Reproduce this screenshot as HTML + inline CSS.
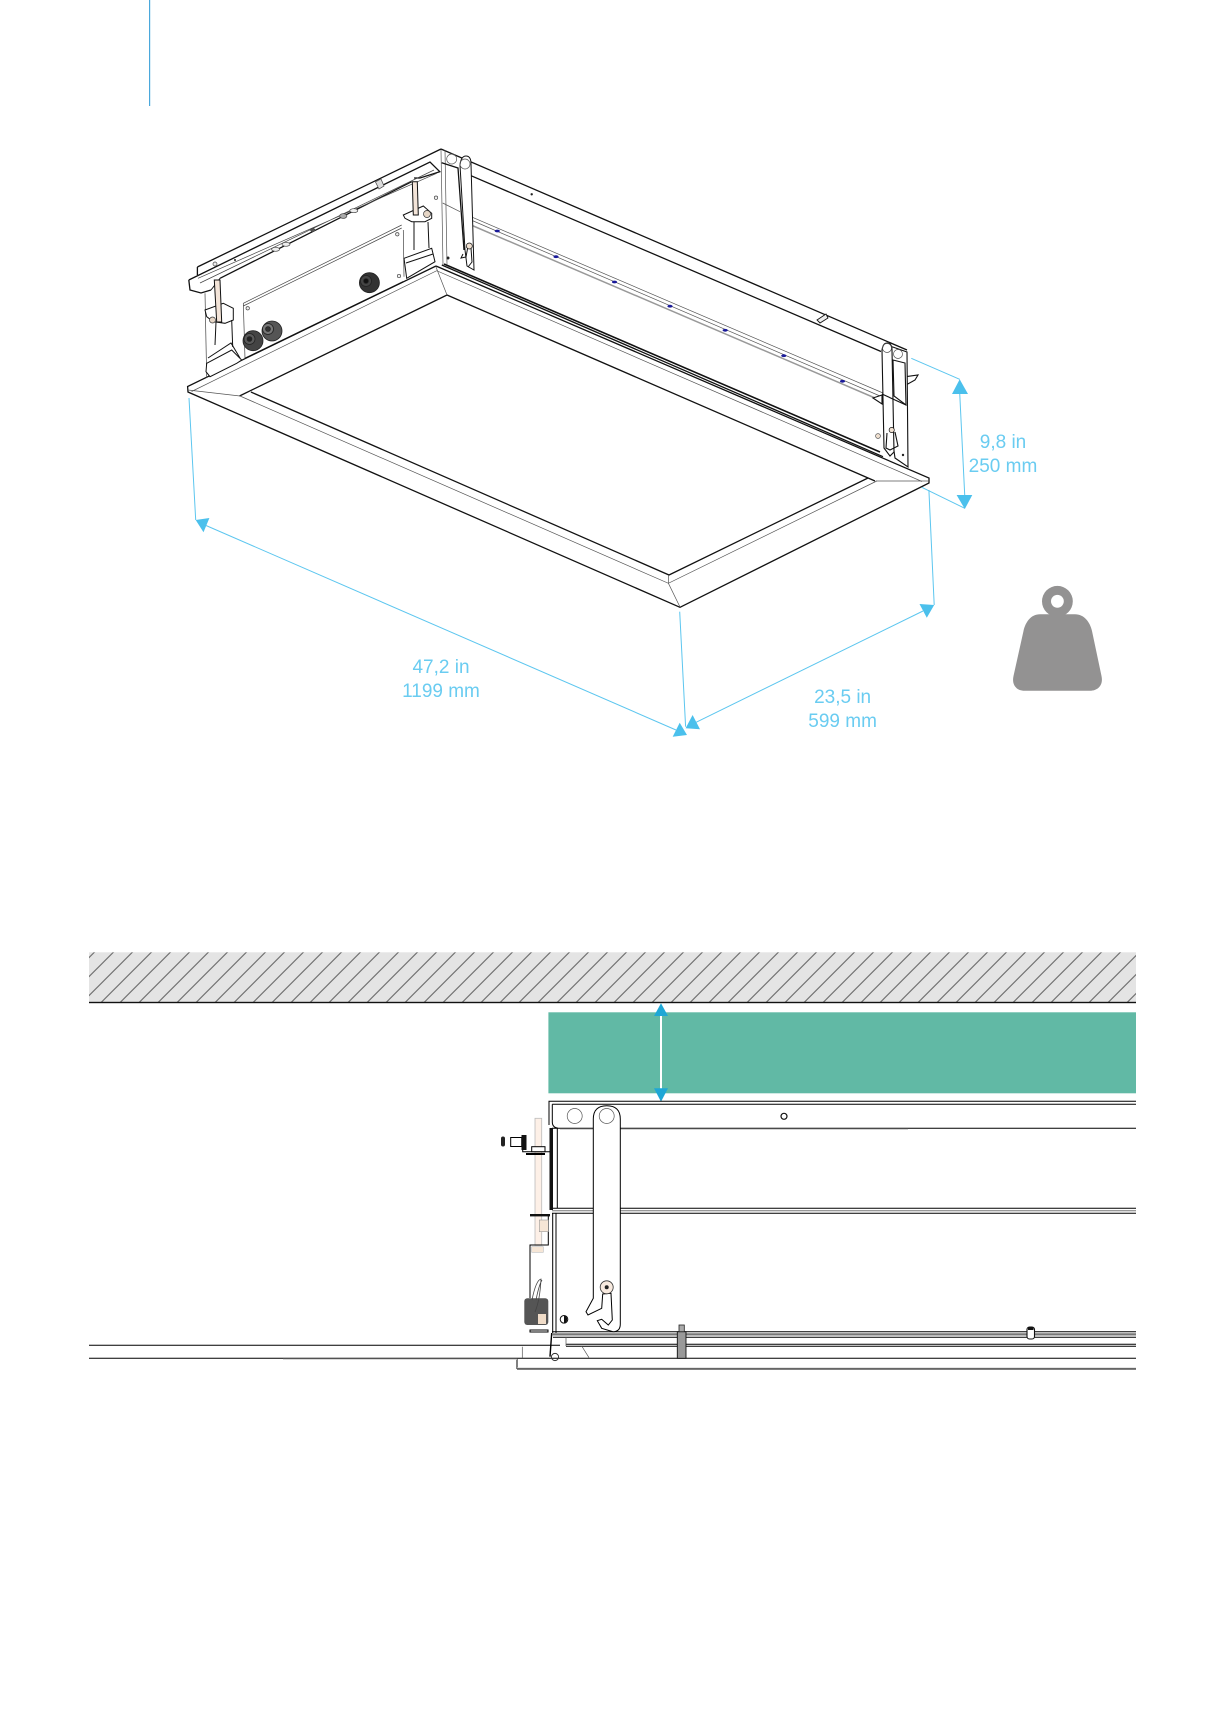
<!DOCTYPE html>
<html><head><meta charset="utf-8"><style>html,body{margin:0;padding:0;background:#fff}svg{display:block}text{font-family:"Liberation Sans",sans-serif;font-size:19px;fill:#6accf1;text-anchor:middle}</style></head><body>
<svg width="1226" height="1719" viewBox="0 0 1226 1719" xmlns="http://www.w3.org/2000/svg">
<defs><pattern id="h" width="19" height="19" patternUnits="userSpaceOnUse" patternTransform="translate(1.6 0)"><rect width="19" height="19" fill="#e4e4e4"/><path d="M-1 1L1 -1M0 19L19 0M18 20L20 18" stroke="#666" stroke-width="1.1"/></pattern></defs>
<rect x="149" y="0" width="1.2" height="106" fill="#4aa8dc"/>

<!-- casing long side -->
<g fill="none" stroke="#111" stroke-width="1.3">
<path d="M441 149L907 350M471 175.7L881 351.5M441.8 265L883 456.7"/>
<path d="M444 264L880 452" stroke-width="1.6"/>
<path d="M436 266L929 478L929 483L923 486L680 607.3L188 392L187.6 386.5L436 266"/>
<path d="M239.5 396L447 295L875 481M250.9 392L669 575L868 478"/>
</g>
<g fill="none" stroke="#555" stroke-width=".7">
<path d="M471 216.7L883 393M471 220L880 396"/>
<path d="M191.6 391.5L436.7 270.7L922 481.5M240 396L668.4 583.3L876.8 481"/>
<path d="M188 390L240 396M668.4 575L668.4 583.3L680 607M436 267L447 295M876 481L929 481"/>
</g>
<path d="M471 225L875 398" fill="none" stroke="#999" stroke-width="1.5"/>
<g fill="#1a1a9a"><ellipse cx="497.3" cy="231" rx="2.6" ry="1.4"/><ellipse cx="556" cy="256.7" rx="2.6" ry="1.4"/><ellipse cx="614.5" cy="282" rx="2.6" ry="1.4"/><ellipse cx="670" cy="306.2" rx="2.6" ry="1.4"/><ellipse cx="725.2" cy="330.3" rx="2.6" ry="1.4"/><ellipse cx="783.8" cy="355.7" rx="2.6" ry="1.4"/><ellipse cx="842.5" cy="381.3" rx="2.6" ry="1.4"/></g>
<circle cx="531.7" cy="194.3" r="1.2" fill="#222"/>
<path d="M817 320L826 314L828 318L820 323Z" fill="#eee" stroke="#111" stroke-width=".9"/>
<!-- left strap -->
<g fill="#fff" stroke="#111" stroke-width="1">
<path d="M460 165Q461 156 466 156Q471 156 471 164L474 270L467 266L465 250Z"/>
<path d="M463 254L461 258L466 257L468 246L471 248L472 262L468 267" fill="none"/>
</g>
<g fill="none" stroke="#555" stroke-width=".7">
<circle cx="451.7" cy="159" r="5"/><circle cx="465" cy="164" r="5"/>
<path d="M441 150L443 265M445 150L447 265M442.7 203L460 211.7"/>
</g>
<path d="M441.7 162.7L458 168L464 250" fill="none" stroke="#111" stroke-width="1.3"/>
<circle cx="469.3" cy="246" r="3" fill="#f0e0d0" stroke="#111" stroke-width=".7"/>
<circle cx="448" cy="258" r="1.5" fill="#222"/>
<!-- right strap -->
<g fill="#fff" stroke="#111" stroke-width="1.1">
<path d="M905.7 376.7L918 375L915 380L906 385Z"/>
<path d="M873 398L882 395L882 404Z"/>
<path d="M887 345L907 352L908 467L895 458L894 451Z"/>
<path d="M882 350Q883 343 887 343Q892 343 892 350L894 452L890 456L884 448Z"/>
<path d="M893 360L905 363L906 405L894 396Z" fill="none"/>
<path d="M887 433L886 448L890 450L898 446L895 432" fill="none"/>
<path d="M882 394L906 405" fill="none"/>
</g>
<circle cx="887" cy="348" r="4.5" fill="none" stroke="#555" stroke-width=".7"/><circle cx="898" cy="354" r="4.5" fill="none" stroke="#555" stroke-width=".7"/>
<circle cx="891.7" cy="430" r="2.6" fill="#f0e0d0" stroke="#111" stroke-width=".7"/><circle cx="878" cy="436" r="2.4" fill="#f0e0d0" stroke="#555" stroke-width=".7"/>
<circle cx="903" cy="455" r="1.2" fill="#222"/>

<!-- left side -->
<g fill="none" stroke="#111" stroke-width="1.3">
<path d="M197.4 267L197.4 275M197.4 267L441 149"/>
<path d="M188.8 280L430 162L439.8 171.7L420 178L414 178"/>
<path d="M188.8 280L190 290L201 293L211 290"/>
<path d="M220 278.3L411.7 181.7"/>
<path d="M245 358.3L403.3 281.7"/>
<path d="M211 290L220 278.3" stroke-width=".9"/>
</g>
<g fill="none" stroke="#444" stroke-width=".7">
<path d="M198 278.3L436.7 173.3M200 283L434 170M205 293.3L206.7 378M243.3 303.3L245 358.3M243.3 303.3L401.7 225M243.3 306L401.7 228M403.3 230L404 276.7"/>
</g>
<g fill="#eee" stroke="#444" stroke-width=".7">
<ellipse cx="275.6" cy="249.3" rx="4" ry="2"/><ellipse cx="286" cy="244.3" rx="4" ry="2"/><ellipse cx="343.3" cy="216" rx="3.6" ry="2.4" fill="#aaa"/><ellipse cx="353.8" cy="210.7" rx="4" ry="2"/><ellipse cx="312.7" cy="230" rx="2.2" ry="1.6" fill="#555"/><circle cx="215" cy="264" r="2"/><circle cx="247.7" cy="308.3" r="1.7"/><circle cx="397.3" cy="234.3" r="1.7"/><circle cx="399" cy="276" r="1.7"/><circle cx="436" cy="197.7" r="1.7"/>
<path d="M375.5 182L381 179L384 186L379 189Z" fill="#ddd"/>
</g>
<circle cx="235" cy="260" r="1" fill="#222"/>
<!-- hinges -->
<g fill="#fff" stroke="#111" stroke-width="1">
<path d="M205 310L223.3 303.3L233.3 308.3L233.3 320L225 323.3L213.3 321.7L206.7 316.7Z"/>
<path d="M214.3 280L220 280L221.7 322L216.7 322Z" fill="#f3e4d8"/>
<path d="M216 322L215 345M231.7 320L232.7 347" fill="none"/>
<path d="M206.7 363.3L231.7 350L241.7 360L236.7 363.3L210 376.7L206 371.7Z"/>
<path d="M208 358L231 343L240 358" fill="none"/>
<path d="M403.3 215L423.3 206L431.7 213.3L431.7 218.3L425 221.7L411.7 221.7L405 218.3Z"/>
<path d="M412.3 181.7L417.3 181.7L418.3 215L413.3 215Z" fill="#f3e4d8"/>
<path d="M414 222L414 250M428 222L429 248" fill="none"/>
<path d="M404 258.3L431.7 248.3L435 261.7L406.7 278.3Z"/>
<path d="M406 263L433 254" fill="none"/>
</g>
<circle cx="212.5" cy="320" r="3" fill="#e6d6c6" stroke="#333" stroke-width=".7"/><circle cx="427" cy="214" r="3.5" fill="#e6d6c6" stroke="#333" stroke-width=".7"/>
<!-- glands -->
<g stroke="#222" stroke-width=".8">
<circle cx="253" cy="340.7" r="10" fill="#444"/><circle cx="249.5" cy="339" r="5.5" fill="#5a5a5a"/><circle cx="249.5" cy="339" r="2.4" fill="#222"/>
<circle cx="272" cy="331" r="10" fill="#555"/><circle cx="268" cy="329" r="5.5" fill="#777"/><circle cx="268" cy="329" r="2.4" fill="#333"/>
<circle cx="369.4" cy="282.7" r="10" fill="#333"/><circle cx="366" cy="281" r="5.5" fill="#444"/><circle cx="366" cy="281" r="2.4" fill="#111"/>
</g>

<!-- dimension lines -->
<g fill="none" stroke="#5cc6ef" stroke-width="1">
<path d="M189 398L195.7 520M206 525.5L676 730M679.7 611.7L685.6 726.7M695.3 722.7L923 611M928.9 490L934.2 605M959.7 393L964.8 496.7M911.3 358.3L959.7 379.3M921.8 487.3L964.8 508.3"/>
</g>
<g fill="#4bc0ec">
<path d="M195.7 520L209.4 518L203.5 532.3Z"/><path d="M679.7 722.7L687 735L672.7 736.7Z"/><path d="M692.6 715L700 729.3L685.6 728.3Z"/><path d="M919.5 604L934.2 605L926.8 617.7Z"/><path d="M959.7 379.3L968 394L952 394Z"/><path d="M956.6 495L972.3 495L964.8 509Z"/>
</g>
<text x="1003" y="448">9,8 in</text><text x="1003" y="472">250 mm</text>
<text x="441" y="673">47,2 in</text><text x="441" y="697">1199 mm</text>
<text x="842.6" y="703">23,5 in</text><text x="842.6" y="727">599 mm</text>

<!-- weight -->
<circle cx="1057.4" cy="601.3" r="15.4" fill="#939292"/>
<path fill="#939292" d="M1040 614.3H1075C1084 614.3 1090 622 1092 631L1101.5 676C1103.5 685 1098 690.7 1090 690.7H1024.5C1016.5 690.7 1011.5 685 1013.5 676L1023.5 631C1025.5 622 1031 614.3 1040 614.3Z"/>
<circle cx="1057.4" cy="601.3" r="6.4" fill="#fff"/>

<!-- section -->
<rect x="89" y="952.3" width="1047" height="50" fill="url(#h)"/>
<rect x="89" y="1001.8" width="1047" height="1.4" fill="#111"/>
<rect x="548.4" y="1012.3" width="587.6" height="81" fill="#61b9a5"/>
<rect x="660" y="1015" width="2" height="74" fill="#fff"/>
<g fill="#1ea7d6"><path d="M661 1003.3L668 1016L654 1016Z"/><path d="M654 1088.3L668 1088.3L661 1101.7Z"/></g>
<g fill="none" stroke="#000" stroke-width="1">
<path d="M549 1104.3V1101.3H1136M552.3 1104.3H1136M552 1128.3H1136M549 1101.3V1125M552.3 1104.3V1122Q552.3 1128.3 560 1128.3"/>
<path d="M552 1208.3H1136M552 1213.3H1136M557.3 1128.3V1208.3M552.7 1213V1333M556 1213V1333"/>
<path d="M552 1331.7H1136M553 1337.3H1136M566 1344.3H1136M566 1346.3H1136M89 1345.3H560M89 1358.3H1136M517 1369H1136M517 1359V1369"/>
<path d="M566 1337V1346M581.7 1346L589 1357.7M522.3 1346.7V1358" stroke="#555" stroke-width=".7"/>
<path d="M551.7 1333L550 1356.7" stroke-width="1.4"/>
<circle cx="555" cy="1357" r="3.6" stroke="#333"/>
</g>
<path d="M552 1210.8H1136" stroke="#777" stroke-width="1"/><path d="M560 1129.4H908M283 1359.3H517M517 1368H1136" stroke="#ccc" stroke-width="1"/>
<path d="M552 1334.4H1136" stroke="#777" stroke-width="2.2"/>
<rect x="549.5" y="1128" width="3.5" height="82" fill="#111"/>
<!-- strap -->
<path d="M593.3 1290V1119Q593.3 1105.7 606.8 1105.7Q620.3 1105.7 620.3 1119V1324Q620.3 1331.7 613 1331.7L601.7 1328.3L597.3 1320.7L601.7 1319.3L608.3 1325L612.3 1320L611 1293.3L602.7 1294L601.7 1308.3L588 1315L586 1311.7L593.3 1298.3Z" fill="#fff" stroke="#000" stroke-width="1"/>
<circle cx="574.7" cy="1116" r="7.5" fill="none" stroke="#555" stroke-width=".7"/>
<circle cx="606.7" cy="1116" r="7.5" fill="none" stroke="#555" stroke-width=".7"/>
<circle cx="606.7" cy="1287.3" r="6.5" fill="#f8eadf" stroke="#333" stroke-width=".8"/><circle cx="606.7" cy="1287.3" r="2" fill="#222"/>
<circle cx="784" cy="1116.3" r="3" fill="#fff" stroke="#111" stroke-width="1.2"/>
<circle cx="564" cy="1319.3" r="3.8" fill="#fff" stroke="#111" stroke-width="1"/><path d="M564 1315.5V1323A3.8 3.8 0 0 0 564 1315.5Z" fill="#111"/>
<!-- left parts -->
<rect x="535" y="1118.3" width="6.7" height="127" fill="#fdf0e7" stroke="#bbb" stroke-width=".8"/>
<g fill="#fff" stroke="#000" stroke-width="1">
<rect x="510.7" y="1137.5" width="11" height="9"/>
<path d="M522.7 1135V1151.7H550" fill="none"/>
<rect x="531.7" y="1146.7" width="13.3" height="5"/>
<path d="M526 1154H545" fill="none" stroke-width="2"/>
<path d="M548.3 1215V1245L530 1245V1298" fill="none"/>
<rect x="539.3" y="1220" width="9" height="11.7" fill="#f6e6d6" stroke="#999" stroke-width=".6"/>
<rect x="531.7" y="1246.7" width="11.6" height="5.6" fill="#f6e6d6" stroke="#bbb" stroke-width=".6"/>
<rect x="530" y="1330" width="18" height="2" />
</g>
<rect x="501" y="1136.5" width="4" height="10" rx="2" fill="#222"/><rect x="521.5" y="1135" width="5" height="15" fill="#111"/>
<rect x="530" y="1214" width="20" height="2.4" fill="#111"/>
<rect x="524.3" y="1298.3" width="24" height="26.7" rx="3" fill="#555"/>
<rect x="538" y="1314" width="8" height="10" fill="#f0dcc8"/>
<path d="M532 1300Q536 1280 541 1279Q540 1300 535 1312M536 1300Q539 1285 542 1280" fill="none" stroke="#444" stroke-width=".8"/>
<!-- bolts -->
<rect x="677.3" y="1331.7" width="8.7" height="26.6" fill="#999" stroke="#111" stroke-width=".9"/><rect x="679" y="1325" width="5.3" height="6.7" fill="#aaa" stroke="#222" stroke-width=".8"/>
<rect x="1027" y="1327" width="7.5" height="12" rx="2.5" fill="#fff" stroke="#111" stroke-width="1.1"/><rect x="1028" y="1327" width="5.5" height="3" fill="#111"/>
</svg>
</body></html>
